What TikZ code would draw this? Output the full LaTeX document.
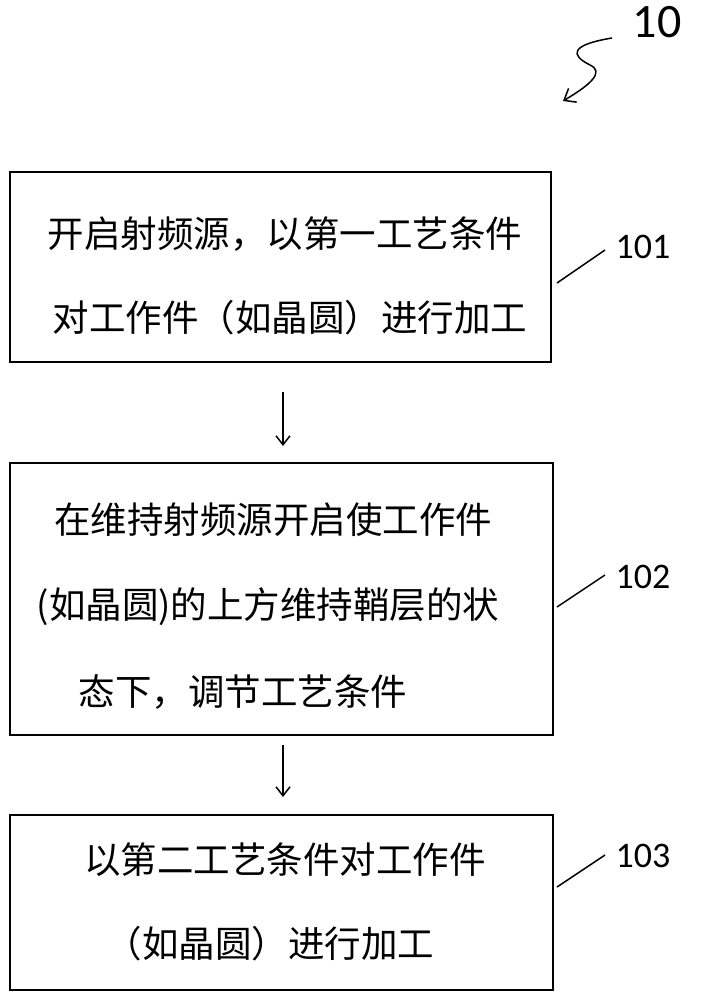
\documentclass[tikz,border=0pt]{standalone}
\usepackage{fontspec}
\setmainfont{Carlito}
\newfontfamily\cjk{Noto Sans CJK SC}
\usetikzlibrary{arrows.meta}
\begin{document}
\begin{tikzpicture}[x=1pt,y=-1pt,
  box/.style={draw,line width=2pt},
  txt/.style={font=\cjk\fontsize{36.5}{36.5}\selectfont,anchor=center,inner sep=0},
  lab/.style={font=\fontsize{36}{36}\selectfont,anchor=center},
  arr/.style={line width=1.5pt,-{Straight Barb[length=9pt,width=14pt]}},
  lead/.style={line width=1.5pt}]
\useasboundingbox (0,0) rectangle (701,1000);
\draw[box] (10,172) rectangle (551,362);
\draw[box] (10,463) rectangle (553,735);
\draw[box] (10,815) rectangle (553,990);
\node[txt] (t1a) at (285,234) {开启射频源，以第一工艺条件};
\node[txt] (t1b) at (290,318) {对工作件（如晶圆）进行加工};
\node[txt] (t2a) at (273,520) {在维持射频源开启使工作件};
\node[txt] (t2b) at (268,607) {(如晶圆)的上方维持鞘层的状};
\node[txt] (t2c) at (243,692) {态下，调节工艺条件};
\node[txt] (t3a) at (285,860) {以第二工艺条件对工作件};
\node[txt] (t3b) at (270,944) {（如晶圆）进行加工};
\coordinate (a1) at (283,392); \coordinate (a2) at (283,446);
\coordinate (b1) at (283,745); \coordinate (b2) at (283,797);
\draw[arr] (a1) -- (a2);
\draw[arr] (b1) -- (b2);
\node[lab] (l1) at (643,247) {101};
\node[lab] (l2) at (643,577) {102};
\node[lab] (l3) at (643,856) {103};
\node[lab,font=\fontsize{48}{48}\selectfont] (l0) at (657,22) {10};
\coordinate (p1) at (557,283); \coordinate (q1) at (605,250);
\coordinate (p2) at (557,607); \coordinate (q2) at (605,575);
\coordinate (p3) at (557,887); \coordinate (q3) at (605,855);
\draw[lead] (p1) -- (q1);
\draw[lead] (p2) -- (q2);
\draw[lead] (p3) -- (q3);
\coordinate (s0) at (612,38); \coordinate (s1) at (563,101);
\draw[line width=1.5pt,-{Straight Barb[length=10pt,width=16pt]}] (s0) .. controls (570,45) and (570,55) .. (590,65) .. controls (605,72) and (590,85) .. (s1);
\end{tikzpicture}
\end{document}
